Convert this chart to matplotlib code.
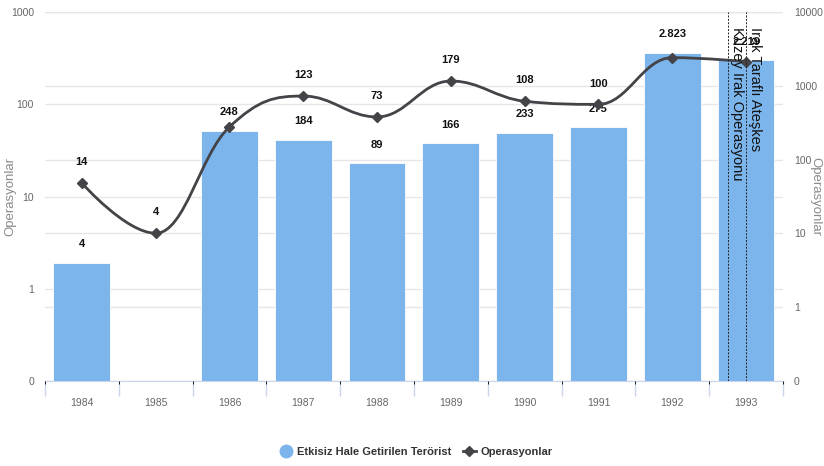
import numpy as np
import matplotlib
matplotlib.use("Agg")
import matplotlib.pyplot as plt
from matplotlib.path import Path
from matplotlib.patches import PathPatch
from matplotlib.lines import Line2D

years = ["1984", "1985", "1986", "1987", "1988", "1989", "1990", "1991", "1992", "1993"]
terrorists = [4, 0, 248, 184, 89, 166, 233, 275, 2823, 2219]
operations = [14, 4, 57, 123, 73, 179, 108, 100, 321, 291]
# labels hidden in the original because they overlap
bar_label_hidden = [1]
line_label_hidden = [2, 8, 9]
events = [(8.76, "Kuzey Irak Operasyonu"), (9.0, "Irak Taraflı Ateşkes")]

left_ticks = [0.1, 1, 10, 100, 1000]
right_ticks = [0.1, 1, 10, 100, 1000, 10000]

BAR = "#7cb5ec"
LINE = "#434348"
GRID = "#e6e6e6"
NARROW = ["Liberation Sans Narrow", "Liberation Sans", "DejaVu Sans"]
SANS = ["Liberation Sans", "DejaVu Sans"]


def fmt(v):
    return f"{v:,}".replace(",", ".")


def spline_path(xs, ys):
    # highcharts style spline, control points worked out in log space
    n = len(xs)
    lc, rc = [None] * n, [None] * n
    for i in range(n):
        px, py = xs[i], ys[i]
        if 0 < i < n - 1:
            lx, ly = xs[i - 1], ys[i - 1]
            nx, ny = xs[i + 1], ys[i + 1]
            lcx, lcy = (1.5 * px + lx) / 2.5, (1.5 * py + ly) / 2.5
            rcx, rcy = (1.5 * px + nx) / 2.5, (1.5 * py + ny) / 2.5
            corr = (rcy - lcy) * (rcx - px) / (rcx - lcx) + py - rcy
            lcy += corr
            rcy += corr
            if lcy > ly and lcy > py:
                lcy = max(ly, py); rcy = 2 * py - lcy
            elif lcy < ly and lcy < py:
                lcy = min(ly, py); rcy = 2 * py - lcy
            if rcy > ny and rcy > py:
                rcy = max(ny, py); lcy = 2 * py - rcy
            elif rcy < ny and rcy < py:
                rcy = min(ny, py); lcy = 2 * py - rcy
            lc[i], rc[i] = (lcx, lcy), (rcx, rcy)
        else:
            lc[i] = rc[i] = (px, py)
    verts = [(xs[0], ys[0])]
    codes = [Path.MOVETO]
    for i in range(1, n):
        verts += [rc[i - 1], lc[i], (xs[i], ys[i])]
        codes += [Path.CURVE4] * 3
    verts = np.array(verts, dtype=float)
    verts[:, 1] = 10 ** verts[:, 1]
    return Path(verts, codes)


x = np.arange(len(years))

fig = plt.figure(figsize=(8.24, 4.66), dpi=100)
rect = [0.0546, 0.1824, 0.8956, 0.7916]

# left axis (operations scale) - grid only, at the back
ax = fig.add_axes(rect, zorder=1)
ax.set_yscale("log")
ax.set_ylim(0.1, 1000)
ax.set_xlim(-0.5, 9.5)
ax.set_yticks(left_ticks)
ax.set_yticklabels(["0" if t < 1 else str(t) for t in left_ticks])
ax.yaxis.set_minor_locator(plt.NullLocator())
ax.grid(axis="y", color=GRID, lw=1)
ax.set_axisbelow(True)
ax.set_ylabel("Operasyonlar", color="#8a8a8a", fontsize=9.5, family=SANS, va="center")
ax.yaxis.set_label_coords(-0.047, 0.5)

# right axis (bars)
axb = fig.add_axes(rect, zorder=2, sharex=ax)
axb.patch.set_visible(False)
axb.set_yscale("log")
axb.bar(x, terrorists, width=0.77, color=BAR, edgecolor="white", lw=0.6, zorder=3)
axb.set_ylim(0.1, 10000)
axb.set_yticks(right_ticks)
axb.set_yticklabels(["0" if t < 1 else str(t) for t in right_ticks])
axb.yaxis.set_minor_locator(plt.NullLocator())
axb.yaxis.tick_right()
axb.yaxis.set_label_position("right")
axb.grid(axis="y", color=GRID, lw=1)
axb.set_axisbelow(True)
axb.set_ylabel("Operasyonlar", color="#8a8a8a", fontsize=9.5, rotation=270,
               family=SANS, va="center")
axb.yaxis.set_label_coords(1.0445, 0.5)
axb.tick_params(axis="x", bottom=False, labelbottom=False)

# top layer for the line, same scale as left axis
axl = fig.add_axes(rect, zorder=3, sharex=ax)
axl.patch.set_visible(False)
axl.set_yscale("log")
axl.set_ylim(0.1, 1000)
axl.axis("off")

path = spline_path(x, np.log10(operations))
axl.add_patch(PathPatch(path, fill=False, edgecolor=LINE, lw=2))
axl.plot(x, operations, ls="none", marker="D", ms=5, color=LINE)

for i, v in enumerate(operations):
    if i in line_label_hidden:
        continue
    axl.annotate(fmt(v), (x[i], v), xytext=(0, 15), textcoords="offset points",
                 ha="center", va="center", fontsize=8, fontweight="bold",
                 family=NARROW, color="#111111")
for i, v in enumerate(terrorists):
    if i in bar_label_hidden:
        continue
    axb.annotate(fmt(v), (x[i], v), xytext=(0, 13.5), textcoords="offset points",
                 ha="center", va="center", fontsize=8, fontweight="bold",
                 family=NARROW, color="#111111", zorder=6)

for xe, txt in events:
    axl.axvline(xe, color="#222222", ls=(0, (2, 1.5)), lw=0.7)
    axl.text(xe + 0.02, 0.96, txt, transform=axl.get_xaxis_transform(),
             rotation=270, ha="left", va="top", fontsize=10.5, color="#111111",
             family=SANS)

# x axis
ax.set_xticks(x)
ax.set_xticklabels(years, family=NARROW, fontsize=7.5, color="#666666")
ax.set_xticks(np.arange(-0.5, 10, 1), minor=True)
ax.tick_params(axis="x", which="major", length=0, pad=12)
ax.tick_params(axis="x", which="minor", length=11, color="#ccd6eb", width=1)
ax.tick_params(axis="y", length=0, pad=8, labelcolor="#666666", labelsize=7.5)
axb.tick_params(axis="y", length=0, pad=8, labelcolor="#666666", labelsize=7.5)
for lab in ax.get_yticklabels() + axb.get_yticklabels():
    lab.set_family(NARROW)
for a in (ax, axb):
    for s in ("top", "left", "right"):
        a.spines[s].set_visible(False)
axb.spines["bottom"].set_visible(False)
ax.spines["bottom"].set_color("#ccd6eb")

handles = [
    Line2D([], [], ls="none", marker="o", ms=9, color=BAR),
    Line2D([], [], color=LINE, lw=2, marker="D", ms=5),
]
fig.legend(handles, ["Etkisiz Hale Getirilen Terörist", "Operasyonlar"],
           loc="center", bbox_to_anchor=(0.505, 0.03), ncol=2, frameon=False,
           prop={"family": NARROW, "weight": "bold", "size": 8},
           handlelength=1.2, handletextpad=0.4, columnspacing=1.0,
           labelcolor="#333333")

fig.savefig("out.png", dpi=100)
